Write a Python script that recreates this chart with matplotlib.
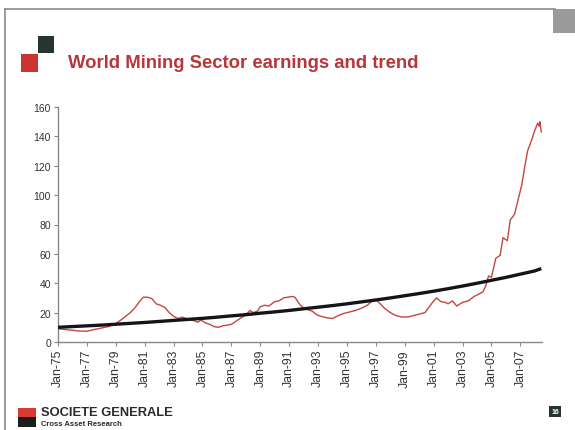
import matplotlib
matplotlib.use("Agg")
import matplotlib.pyplot as plt
from matplotlib.patches import Rectangle
from matplotlib.lines import Line2D

SANS = "Liberation Sans"

# ---- data ----
earn_x = [1975.0, 1975.5, 1976.0, 1976.5, 1977.0, 1977.5, 1978.0, 1978.5, 1979.0, 1979.5,
          1980.0, 1980.3, 1980.6, 1980.9, 1981.2, 1981.5, 1981.8, 1982.1, 1982.4, 1982.7,
          1983.0, 1983.3, 1983.6, 1984.0, 1984.4, 1984.7, 1984.9, 1985.2, 1985.5, 1985.8,
          1986.1, 1986.4, 1986.7, 1987.0, 1987.3, 1987.6, 1988.0, 1988.3, 1988.5, 1988.8,
          1989.0, 1989.3, 1989.6, 1990.0, 1990.3, 1990.6, 1990.9, 1991.2, 1991.4, 1991.7,
          1992.0, 1992.3, 1992.6, 1992.9, 1993.2, 1993.6, 1994.0, 1994.4, 1994.8, 1995.2,
          1995.6, 1996.0, 1996.4, 1996.7, 1997.0, 1997.3, 1997.6, 1998.0, 1998.4, 1998.8,
          1999.2, 1999.6, 2000.0, 2000.4, 2000.7, 2001.0, 2001.2, 2001.5, 2001.8, 2002.0,
          2002.3, 2002.6, 2003.0, 2003.4, 2003.8, 2004.1, 2004.4, 2004.6, 2004.8, 2005.0,
          2005.3, 2005.6, 2005.8, 2006.1, 2006.3, 2006.6, 2006.9, 2007.1, 2007.3, 2007.5,
          2007.8, 2008.0, 2008.2, 2008.3, 2008.35, 2008.45]
earn_y = [9, 8.5, 8, 7.5, 7.3, 8.5, 9.5, 10.5, 12.5, 16,
          20, 23, 27, 30.5, 30.5, 29.5, 26, 25, 23.5, 20,
          17.5, 16, 17, 15.5, 14.5, 13.5, 15, 13, 12, 10.5,
          10, 11, 11.5, 12, 14, 16, 18.5, 21.5, 20, 21,
          24, 25, 24.5, 27.5, 28, 30, 30.5, 31, 30.5, 26,
          23, 22, 21, 18.5, 17.5, 16.5, 16, 18, 19.5, 20.5,
          21.5, 23, 25, 27.5, 29, 26, 23, 20, 18, 17,
          17, 18, 19, 20, 24, 28, 30, 27.5, 27, 26,
          28, 24.5, 27, 28, 31, 32.5, 34, 38, 45, 44,
          57, 59, 71, 69, 83, 87, 99, 107, 119, 130,
          138, 144, 149, 147, 150, 143]

trend_x = [1975, 1976, 1977, 1978, 1979, 1980, 1981, 1982, 1983, 1984, 1985, 1986,
           1987, 1988, 1989, 1990, 1991, 1992, 1993, 1994, 1995, 1996, 1997, 1998,
           1999, 2000, 2001, 2002, 2003, 2004, 2005, 2006, 2007, 2008, 2008.45]
trend_y = [10, 10.5, 11, 11.5, 12.1, 12.7, 13.3, 14, 14.7, 15.4, 16.1, 16.9,
           17.8, 18.6, 19.6, 20.5, 21.5, 22.6, 23.7, 24.8, 26, 27.3, 28.6, 30,
           31.5, 33, 34.6, 36.3, 38.1, 40, 42, 44, 46.2, 48.4, 50]

tick_years = list(range(1975, 2008, 2))
tick_labels = ["Jan-75", "Jan-77", "Jan-79", "Jan-81", "Jan-83", "Jan-85", "Jan-87",
               "Jan-89", "Jan-91", "Jan-93", "Jan-95", "Jan-97", "Jan-99", "Jan-01",
               "Jan-03", "Jan-05", "Jan-07"]
y_ticks = [0, 20, 40, 60, 80, 100, 120, 140, 160]

W, H = 575, 431
fig = plt.figure(figsize=(W / 100, H / 100), dpi=100)
fig.patch.set_facecolor("white")

def fx(px):
    return px / W

def fy(py):
    return 1 - py / H

# slide frame lines
fig.add_artist(Line2D([fx(5), fx(5)], [fy(10), fy(431)], color="#8a8a8a", lw=1.2))
fig.add_artist(Line2D([fx(5), fx(555)], [fy(10), fy(10)], color="#8a8a8a", lw=1.2))

# title squares
fig.add_artist(Rectangle((fx(21), fy(73)), fx(17), 18 / H, color="#cc3333", lw=0))
fig.add_artist(Rectangle((fx(38), fy(54)), fx(16), 17 / H, color="#27352f", lw=0))
fig.text(fx(68), fy(64), "World Mining Sector earnings and trend", color="#b8363a",
         fontsize=13.3, fontweight="bold", family=SANS, va="center", ha="left")

# top-right icon
fig.add_artist(Rectangle((fx(553), fy(34)), fx(22), 24 / H, color="#9a9a9a", lw=0))

# footer
fig.add_artist(Rectangle((fx(18), fy(418)), fx(18), 9 / H, color="#d83b34", lw=0))
fig.add_artist(Rectangle((fx(18), fy(428)), fx(18), 10 / H, color="#1c1c1c", lw=0))
fig.text(fx(41), fy(413.5), "SOCIETE GENERALE", color="#2a2a2a", fontsize=9.3,
         fontweight="bold", family=SANS, va="center", ha="left")
fig.text(fx(41), fy(424.5), "Cross Asset Research", color="#2a2a2a", fontsize=5.5,
         fontweight="bold", family=SANS, va="center", ha="left")
fig.add_artist(Rectangle((fx(549), fy(418)), fx(12), 11 / H, color="#27352f", lw=0))
fig.text(fx(555), fy(412.5), "16", color="white", fontsize=5, fontweight="bold",
         family=SANS, va="center", ha="center")

# axes
ax = fig.add_axes([fx(58), fy(343), fx(542 - 58), (343 - 108) / H])
ax.plot(earn_x, earn_y, color="#c4463f", lw=1.0, zorder=2)
ax.plot(trend_x, trend_y, color="#151515", lw=2.4, zorder=3, solid_capstyle="butt")

ax.set_xlim(1975, 2008.5)
ax.set_ylim(0, 160)
ax.set_xticks(tick_years)
ax.set_xticklabels(tick_labels, rotation=90, fontsize=8.8, family=SANS, color="#333333")
ax.set_yticks(y_ticks)
ax.set_yticklabels([str(v) for v in y_ticks], fontsize=7.5, family=SANS, color="#333333")
for s in ["top", "right"]:
    ax.spines[s].set_visible(False)
for s in ["left", "bottom"]:
    ax.spines[s].set_color("#888888")
    ax.spines[s].set_linewidth(1.0)
ax.tick_params(axis="both", direction="out", length=3, width=0.8, color="#888888", pad=2)
ax.set_facecolor("white")

fig.savefig("out.png", dpi=100)
